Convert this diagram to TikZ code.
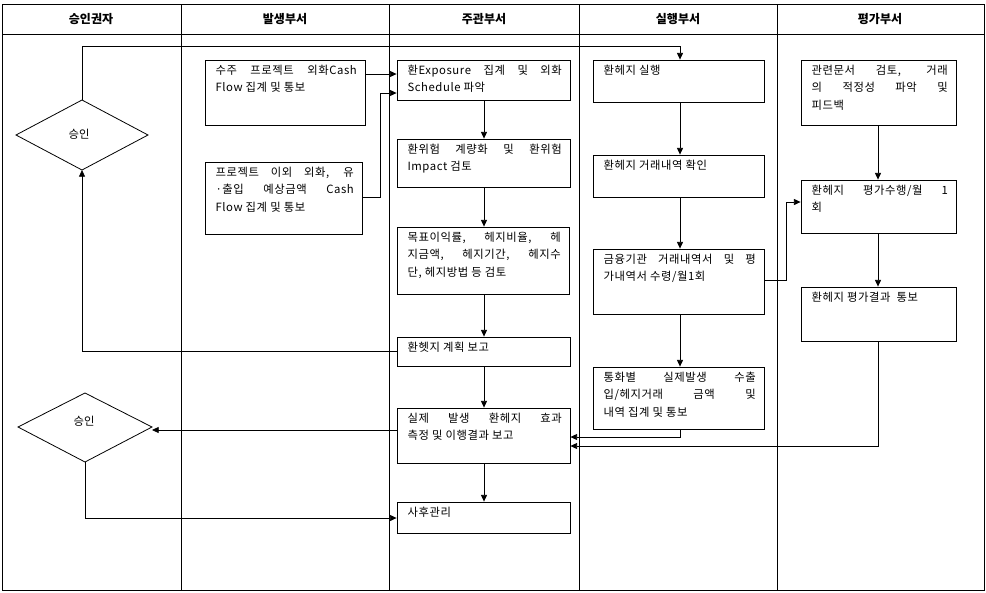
\documentclass[tikz,border=0pt]{standalone}
\usepackage{fontspec}
\setmainfont{Noto Sans CJK KR}
\newfontfamily\boxfont[LetterSpace=5]{Noto Sans CJK KR}
\usetikzlibrary{fit,arrows.meta}
\tikzset{
  box/.style={draw,inner sep=0pt,line width=0.6pt},
  txt/.style={anchor=north west,align=justify,inner sep=0pt,font=\boxfont\fontsize{8.5}{13}\selectfont},
  hdr/.style={font=\fontsize{9}{11}\selectfont\bfseries},
  dia/.style={draw,line width=0.6pt},
  arr/.style={-{Triangle[length=5pt,width=4.5pt]},line width=0.6pt},
  ln/.style={line width=0.6pt}
}
\newcommand{\bx}[6]{%
  \node[box,fit={(#2,#3)(#4,#5)}] (#1) {};
  \pgfmathsetmacro{\tw}{(#4-#2)*0.75-14}%
  \node[txt,text width=\tw pt] (#1t) at ([xshift=8pt,yshift=-4pt]#1.north west) {#6};}
\begin{document}
\begin{tikzpicture}[x=0.75pt,y=-0.75pt]
\useasboundingbox (0,0) rectangle (986,593);
\fill[white] (0,0) rectangle (986,593);
% frame
\draw[ln] (2,4) rectangle (984,590);
\draw[ln] (2,34) -- (984,34);
\foreach \x in {181,389,579,777} \draw[ln] (\x,4) -- (\x,590);
\node[hdr] (h1) at (91,19) {승인권자};
\node[hdr] (h2) at (285,19) {발생부서};
\node[hdr] (h3) at (484,19) {주관부서};
\node[hdr] (h4) at (678,19) {실행부서};
\node[hdr] (h5) at (880,19) {평가부서};
% boxes
\bx{a1}{205}{60}{365}{125}{수주 프로젝트 외화Cash\linebreak Flow 집계 및 통보}
\bx{a2}{205}{162}{362}{234}{프로젝트 이외 외화, 유\linebreak ·출입 예상금액 Cash\linebreak Flow 집계 및 통보}
\bx{b1}{397}{60}{570}{100}{환Exposure 집계 및 외화\linebreak Schedule 파악}
\bx{b2}{397}{139}{570}{187}{환위험 계량화 및 환위험\linebreak Impact 검토}
\bx{b3}{397}{227}{569}{294}{목표이익률, 헤지비율, 헤\linebreak 지금액, 헤지기간, 헤지수\linebreak 단, 헤지방법 등 검토}
\bx{b4}{397}{337}{570}{366}{환헷지 계획 보고}
\bx{b5}{397}{408}{570}{463}{실제 발생 환헤지 효과\linebreak 측정 및 이행결과 보고}
\bx{b6}{397}{502}{570}{533}{사후관리}
\bx{c1}{593}{60}{764}{102}{환헤지 실행}
\bx{c2}{593}{155}{764}{197}{환헤지 거래내역 확인}
\bx{c3}{593}{249}{764}{314}{금융기관 거래내역서 및 평\linebreak 가내역서 수령/월1회}
\bx{c4}{593}{367}{764}{429}{통화별 실제발생 수출\linebreak 입/헤지거래 금액 및\linebreak 내역 집계 및 통보}
\bx{d1}{801}{60}{956}{125}{관련문서 검토, 거래\linebreak 의 적정성 파악 및\linebreak 피드백}
\bx{d2}{801}{180}{956}{233}{환헤지 평가수행/월 1\linebreak 회}
\bx{d3}{801}{287}{956}{341}{환헤지 평가결과 \ 통보}
% diamonds
\draw[dia] (16,135) -- (82,100) -- (148,135) -- (82,170) -- cycle;
\node[font=\fontsize{8.5}{10}\selectfont] (pat) at (79,134) {승인};
\draw[dia] (18,427) -- (85,393) -- (152,427) -- (85,462) -- cycle;
\node[font=\fontsize{8.5}{10}\selectfont] (pbt) at (84,421) {승인};
\coordinate (pat0) at (82,100);
\coordinate (pab) at (82,170);
\coordinate (pbr) at (152,430);
\coordinate (pbb) at (85,462);
% connectors
\draw[arr] (a1.east |- 0,74) -- (b1.west |- 0,74);
\draw[arr] (a2.east |- 0,197) -- (380,197) -- (380,93) -- (b1.west |- 0,93);
\draw[arr] (b1.south -| 484,0) -- (b2.north -| 484,0);
\draw[arr] (b2.south -| 484,0) -- (b3.north -| 484,0);
\draw[arr] (b3.south -| 484,0) -- (b4.north -| 484,0);
\draw[arr] (b4.south -| 484,0) -- (b5.north -| 484,0);
\draw[arr] (b5.south -| 484,0) -- (b6.north -| 484,0);
\draw[arr] (b4.west |- 0,351) -- (82,351) -- (pab);
\draw[arr] (pat0) -- (82,46) -- (680,46) -- (c1.north -| 680,0);
\draw[arr] (c1.south -| 680,0) -- (c2.north -| 680,0);
\draw[arr] (c2.south -| 680,0) -- (c3.north -| 680,0);
\draw[arr] (c3.south -| 680,0) -- (c4.north -| 680,0);
\draw[arr] (c3.east |- 0,280) -- (786,280) -- (786,202) -- (d2.west |- 0,202);
\draw[arr] (d1.south -| 878,0) -- (d2.north -| 878,0);
\draw[arr] (d2.south -| 878,0) -- (d3.north -| 878,0);
\draw[arr] (d3.south -| 878,0) -- (878,446) -- (b5.east |- 0,446);
\draw[arr] (c4.south -| 680,0) -- (680,437) -- (b5.east |- 0,437);
\draw[arr] (b5.west |- 0,430) -- (pbr);
\draw[arr] (pbb) -- (85,518) -- (b6.west |- 0,518);
\end{tikzpicture}
\end{document}
